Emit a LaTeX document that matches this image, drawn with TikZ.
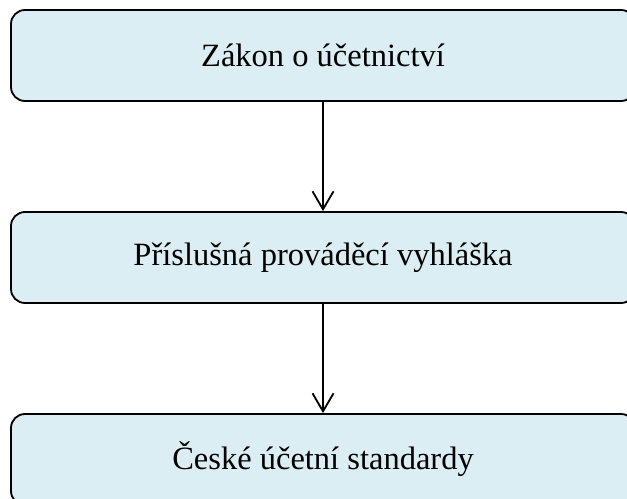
\documentclass[tikz,border=0pt]{standalone}
\usepackage{fontspec}
\setmainfont{Liberation Serif}
\usetikzlibrary{arrows.meta}

\begin{document}
\begin{tikzpicture}[x=1bp, y=-1bp,
    krok/.style={draw=black, line width=1.8bp, fill=boxblue, rounded corners=14bp,
        minimum width=624bp, minimum height=91bp, inner sep=0pt,
        font=\fontsize{32.5bp}{38bp}\selectfont},
    sipka/.style={line width=1.8bp, -{Straight Barb[length=18bp, width=21bp, line width=1.8bp]}}]
    \definecolor{boxblue}{RGB}{218,238,243}
    \useasboundingbox (0,0) rectangle (627,499);

    \node[krok] (zakon) at (323, 55.5) {Zákon o účetnictví};
    \node[krok] (vyhlaska) at (323, 257.5) {Příslušná prováděcí vyhláška};
    \node[krok] (standardy) at (323, 459.5) {České účetní standardy};

    \draw[sipka] (zakon) -- (vyhlaska); % zakon -> vyhlaska
    \draw[sipka] (vyhlaska) -- (standardy); % vyhlaska -> standardy

\end{tikzpicture}
\end{document}
